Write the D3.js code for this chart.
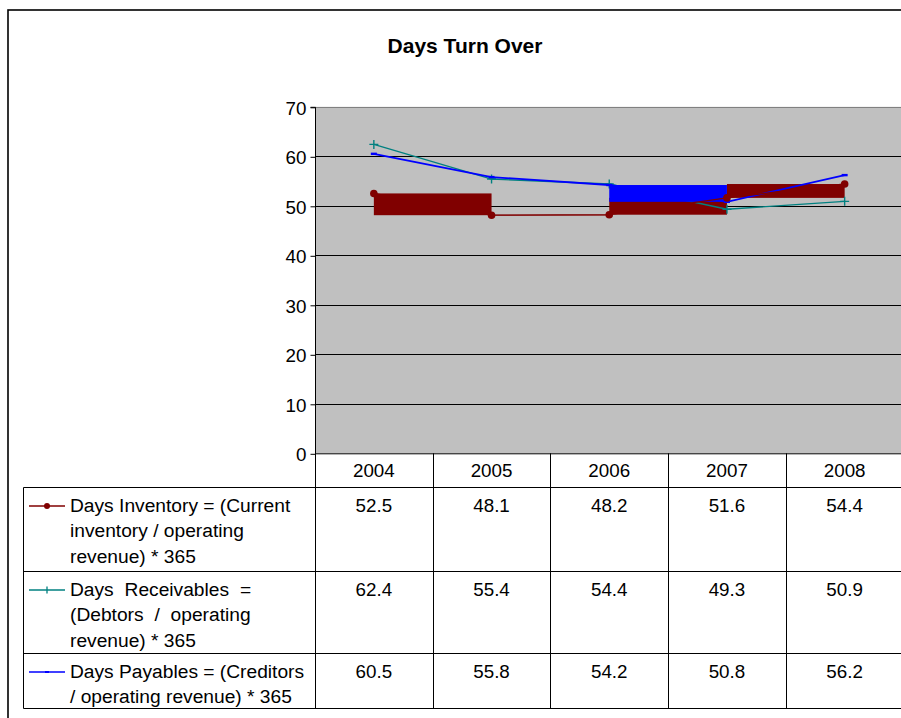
<!DOCTYPE html>
<html><head><meta charset="utf-8">
<script src="https://cdn.jsdelivr.net/npm/d3@7"></script>
<style>html,body{margin:0;padding:0;background:#fff}svg{display:block}</style>
</head><body>
<svg id="c" width="901" height="718"></svg>
<script>
const title = "Days Turn Over";
const years = ["2004","2005","2006","2007","2008"];
const inventory = [52.5, 48.1, 48.2, 51.6, 54.4];
const receivables = [62.4, 55.4, 54.4, 49.3, 50.9];
const payables = [60.5, 55.8, 54.2, 50.8, 56.2];
const yTicks = [0,10,20,30,40,50,60,70];
const legendInventory = ["Days Inventory = (Current", "inventory / operating", "revenue) * 365"];
const legendReceivables = ["Days Receivables =", "(Debtors / operating", "revenue) * 365"];
const legendPayables = ["Days Payables = (Creditors", "/ operating revenue) * 365"];
// filled blocks between consecutive points as they appear in the picture
const inventoryBlocks = [["2004","2005"],["2005","2006"],["2006","2007"],["2007","2008"]];
const payablesBlocks = [["2006","2007"]];

const svg = d3.select("#c");
const FONT = "'Liberation Sans', Arial, sans-serif";
const plotL = 315, plotR = 903.5, yTop = 106.8, yBot = 453.3;
const x = d3.scaleBand().domain(years).range([plotL, plotR]);
const cx = d => x(d) + x.bandwidth()/2;
const y = d3.scaleLinear().domain([0,70]).range([yBot, yTop]);

// outer chart border
svg.append("rect").attr("x",8).attr("y",10).attr("width",1000).attr("height",800)
  .attr("fill","#fff").attr("stroke","#000").attr("stroke-width",1.6);

svg.append("text").attr("x",465).attr("y",53).attr("text-anchor","middle")
  .attr("font-family",FONT).attr("font-weight","bold").attr("font-size",21).text(title);

// plot area
svg.append("rect").attr("x",plotL).attr("y",yTop).attr("width",plotR-plotL).attr("height",yBot-yTop).attr("fill","#c0c0c0");
svg.append("g").selectAll("line").data(yTicks.filter(t=>t>0)).join("line")
  .attr("x1",plotL).attr("x2",plotR).attr("y1",d=>Math.round(y(d))+0.5).attr("y2",d=>Math.round(y(d))+0.5)
  .attr("stroke",d=>d===70?"#808080":"#000").attr("stroke-width",1);

// y axis
const yAxis = d3.axisLeft(y).tickValues(yTicks).tickSize(5).tickPadding(4).tickFormat(d3.format("d"));
const ga = svg.append("g").attr("transform",`translate(${plotL+0.5},0.5)`).call(yAxis);
ga.select(".domain").attr("stroke","#000").attr("d",`M-5,${y(70)}H0V${y(0)}`);
ga.selectAll(".tick line").attr("stroke","#000");
ga.selectAll("text").attr("font-family",FONT).attr("font-size",18.8).attr("fill","#000").attr("dy","0.36em");

// blocks (inventory)
const blockG = svg.append("g");
function block(series, pair, color){
  const i0 = years.indexOf(pair[0]), i1 = years.indexOf(pair[1]);
  const v0 = series[i0], v1 = series[i1];
  blockG.append("rect").attr("x",cx(pair[0])).attr("width",cx(pair[1])-cx(pair[0]))
    .attr("y",y(Math.max(v0,v1))).attr("height",Math.max(0.8,y(Math.min(v0,v1))-y(Math.max(v0,v1))))
    .attr("fill",color);
}
inventoryBlocks.forEach(p=>block(inventory,p,"#800000"));

const line = d3.line().x((d,i)=>cx(years[i])).y(d=>y(d));

// receivables
svg.append("path").attr("d",line(receivables)).attr("fill","none").attr("stroke","#008080").attr("stroke-width",1.4);
svg.append("g").selectAll("path").data(receivables).join("path")
  .attr("d",(d,i)=>`M${cx(years[i])-4.5},${y(d)}h9M${cx(years[i])},${y(d)-4.5}v9`)
  .attr("stroke","#008080").attr("stroke-width",1.4);

// payables blocks and line
const pb = svg.append("g");
payablesBlocks.forEach(p=>{
  const i0 = years.indexOf(p[0]), i1 = years.indexOf(p[1]);
  const v0 = payables[i0], v1 = payables[i1];
  pb.append("rect").attr("x",cx(p[0])).attr("width",cx(p[1])-cx(p[0]))
    .attr("y",y(Math.max(v0,v1))).attr("height",y(Math.min(v0,v1))-y(Math.max(v0,v1))).attr("fill","#0000ff");
});
svg.append("path").attr("d",line(payables)).attr("fill","none").attr("stroke","#0000ff").attr("stroke-width",1.8);
svg.append("g").selectAll("rect").data(payables).join("rect")
  .attr("x",(d,i)=>cx(years[i])-3).attr("y",d=>y(d)-1.2).attr("width",6).attr("height",2.4).attr("fill","#0000ff");

// inventory line & markers
svg.append("path").attr("d",line(inventory)).attr("fill","none").attr("stroke","#800000").attr("stroke-width",1.3);
svg.append("g").selectAll("circle").data(inventory).join("circle")
  .attr("cx",(d,i)=>cx(years[i])).attr("cy",d=>y(d)).attr("r",3.8).attr("fill","#800000");

// x axis line
svg.append("line").attr("x1",plotL).attr("x2",plotR).attr("y1",yBot+0.5).attr("y2",yBot+0.5).attr("stroke","#000");

// data table
const tLeft = 23.5, rowTops = [486.7, 570.7, 652.7], tBottom = 708.3;
const tg = svg.append("g").attr("stroke","#000").attr("stroke-width",1);
x.domain().forEach(d=>{
  tg.append("line").attr("x1",Math.round(x(d))+0.5).attr("x2",Math.round(x(d))+0.5).attr("y1",yBot).attr("y2",tBottom);
});
tg.append("line").attr("x1",Math.round(plotR)+0.5).attr("x2",Math.round(plotR)+0.5).attr("y1",yBot).attr("y2",tBottom);
rowTops.concat([tBottom]).forEach(r=>{
  tg.append("line").attr("x1",tLeft).attr("x2",plotR).attr("y1",Math.round(r)+0.5).attr("y2",Math.round(r)+0.5);
});
tg.append("line").attr("x1",tLeft).attr("x2",tLeft).attr("y1",Math.round(rowTops[0])+0.5).attr("y2",Math.round(tBottom)+0.5);

// header labels
svg.append("g").selectAll("text").data(years).join("text")
  .attr("x",d=>cx(d)).attr("y",477).attr("text-anchor","middle")
  .attr("font-family",FONT).attr("font-size",18.8).text(d=>d);

const rows = [
  {vals:inventory, lines:legendInventory, color:"#800000", marker:"circle", ws:0},
  {vals:receivables, lines:legendReceivables, color:"#008080", marker:"plus", ws:5.5},
  {vals:payables, lines:legendPayables, color:"#0000ff", marker:"dash", ws:0}
];
rows.forEach((r,ri)=>{
  const base = rowTops[ri] + 24.8;
  const ly = base - 5.5;
  svg.append("line").attr("x1",29).attr("x2",65).attr("y1",ly).attr("y2",ly).attr("stroke",r.color).attr("stroke-width",1.3);
  if(r.marker==="circle") svg.append("circle").attr("cx",47).attr("cy",ly).attr("r",3).attr("fill",r.color);
  if(r.marker==="plus") svg.append("path").attr("d",`M47,${ly-3.5}v7`).attr("stroke",r.color).attr("stroke-width",1.3);
  if(r.marker==="dash") svg.append("rect").attr("x",45).attr("y",ly-1).attr("width",4).attr("height",2).attr("fill",r.color);
  r.lines.forEach((t,li)=>{
    svg.append("text").attr("x",70).attr("y",base + li*25.5)
      .attr("font-family",FONT).attr("font-size",19.2).attr("word-spacing",(li<2?r.ws:0)).text(t);
  });
  svg.append("g").selectAll("text").data(r.vals).join("text")
    .attr("x",(d,i)=>cx(years[i])).attr("y",base).attr("text-anchor","middle")
    .attr("font-family",FONT).attr("font-size",18.8).text(d=>d.toFixed(1));
});
</script>
</body></html>
